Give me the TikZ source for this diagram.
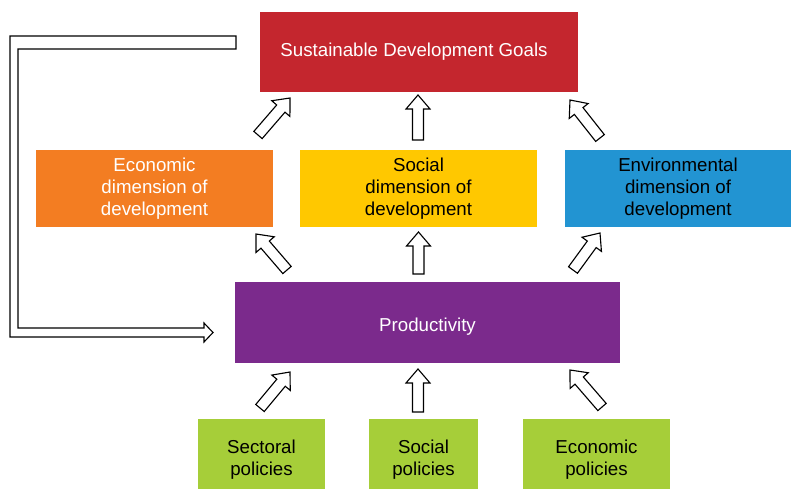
\documentclass[tikz,border=0pt]{standalone}
\usepackage{fontspec}
\setmainfont{Liberation Sans}
\usetikzlibrary{calc}

\definecolor{sdgred}{HTML}{C4262E}
\definecolor{econorange}{HTML}{F37D22}
\definecolor{socialyellow}{HTML}{FFC800}
\definecolor{envblue}{HTML}{2294D2}
\definecolor{prodpurple}{HTML}{7B2A8C}
\definecolor{policygreen}{HTML}{A6CE39}

\tikzset{
  box/.style={rectangle, inner sep=0pt, align=center, font=\fontsize{13.3}{15.6}\selectfont},
  hollowline/.style={draw=black, fill=white, line width=0.8pt, line join=miter},
  blockarrow/.style={hollowline,
    to path={($(\tikztostart)!1.375mm!90:(\tikztotarget)$)
      -- ($(\tikztotarget)!3.5mm!(\tikztostart)!1.375mm!-90:(\tikztostart)$)
      -- ($(\tikztotarget)!3.5mm!(\tikztostart)!3mm!-90:(\tikztostart)$)
      -- (\tikztotarget)
      -- ($(\tikztotarget)!3.5mm!(\tikztostart)!3mm!90:(\tikztostart)$)
      -- ($(\tikztotarget)!3.5mm!(\tikztostart)!1.375mm!90:(\tikztostart)$)
      -- ($(\tikztostart)!1.375mm!-90:(\tikztotarget)$) -- cycle}}
}

\begin{document}
\begin{tikzpicture}
  \useasboundingbox (0,0) rectangle (19.775,12.2);

  % boxes
  \node[box, fill=sdgred, text=white, minimum width=7.95cm, minimum height=2cm] (sdg) at (10.475,10.9) {\hspace*{-2.5mm}Sustainable Development Goals};
  \node[box, fill=econorange, text=white, minimum width=5.925cm, minimum height=1.925cm] (econ) at (3.8625,7.4875) {Economic\\dimension of\\development};
  \node[box, fill=socialyellow, minimum width=5.925cm, minimum height=1.925cm] (social) at (10.4625,7.4875) {Social\\dimension of\\development};
  \node[box, fill=envblue, minimum width=5.65cm, minimum height=1.925cm] (env) at (16.95,7.4875) {Environmental\\dimension of\\development};
  \node[box, fill=prodpurple, text=white, minimum width=9.625cm, minimum height=2.025cm, text height=14.9pt, text depth=2.8pt] (prod) at (10.6875,4.1375) {Productivity};
  % green boxes run off the bottom edge
  \node[box, fill=policygreen, minimum width=3.175cm, minimum height=2.025cm] (sectoral) at (6.5375,0.7125) {Sectoral\\policies};
  \node[box, fill=policygreen, minimum width=2.725cm, minimum height=2.025cm] (socpol) at (10.5875,0.7125) {Social\\policies};
  \node[box, fill=policygreen, minimum width=3.675cm, minimum height=2.025cm] (ecopol) at (14.9125,0.7125) {Economic\\policies};

  % arrow ends
  \coordinate (r1ls) at (6.45,8.825);    \coordinate (r1le) at (7.25,9.75);
  \coordinate (r1cs) at (10.45,8.7);     \coordinate (r1ce) at (10.45,9.825);
  \coordinate (r1rs) at (15.0,8.75);     \coordinate (r1re) at (14.25,9.7);
  \coordinate (r2ls) at (7.175,5.45);    \coordinate (r2le) at (6.4,6.35);
  \coordinate (r2cs) at (10.4625,5.35);  \coordinate (r2ce) at (10.4625,6.4);
  \coordinate (r2rs) at (14.325,5.45);   \coordinate (r2re) at (15.0,6.375);
  \coordinate (r3ls) at (6.5,2.0);       \coordinate (r3le) at (7.25,2.9);
  \coordinate (r3cs) at (10.45,1.9);     \coordinate (r3ce) at (10.45,2.975);
  \coordinate (r3rs) at (15.05,2.025);   \coordinate (r3re) at (14.25,2.95);

  \draw[blockarrow] (r1ls) to (r1le);
  \draw[blockarrow] (r1cs) to (r1ce);
  \draw[blockarrow] (r1rs) to (r1re);
  \draw[blockarrow] (r2ls) to (r2le);
  \draw[blockarrow] (r2cs) to (r2ce);
  \draw[blockarrow] (r2rs) to (r2re);
  \draw[blockarrow] (r3ls) to (r3le);
  \draw[blockarrow] (r3cs) to (r3ce);
  \draw[blockarrow] (r3rs) to (r3re);

  % feedback loop
  \coordinate (fbtop) at (5.9,11.1375);
  \coordinate (fbtip) at (5.325,3.8875);
  \draw[hollowline] ([yshift=1.625mm]fbtop) -- (0.25,11.3) -- (0.25,3.775)
    -- ([xshift=-2.25mm,yshift=-1.125mm]fbtip) -- ([xshift=-2.25mm,yshift=-2.375mm]fbtip)
    -- (fbtip) -- ([xshift=-2.25mm,yshift=2.375mm]fbtip) -- ([xshift=-2.25mm,yshift=1.125mm]fbtip)
    -- (0.45,4.0) -- (0.45,10.975) -- ([yshift=-1.625mm]fbtop) -- cycle;
\end{tikzpicture}
\end{document}
